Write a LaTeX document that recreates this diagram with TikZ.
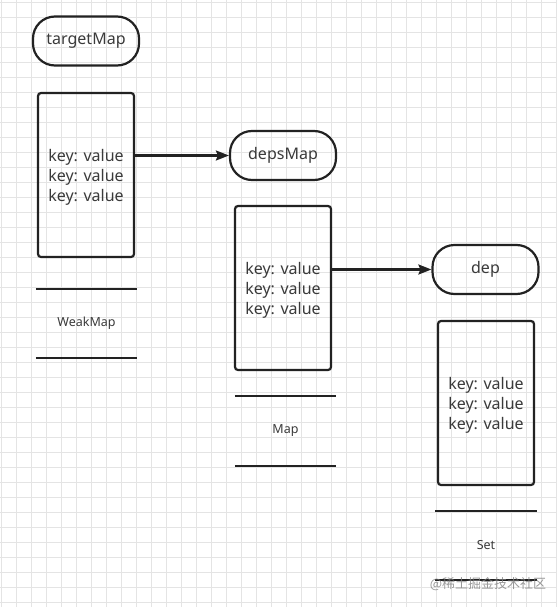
\documentclass[tikz,border=0pt]{standalone}
\usepackage{fontspec}
\setmainfont{Noto Sans}
\newfontfamily\cjk{Noto Sans CJK SC}
\usetikzlibrary{arrows.meta}
\definecolor{ink}{HTML}{222222}
\definecolor{txt}{HTML}{3A3A3A}
\definecolor{gridc}{HTML}{E4E4E4}
\begin{document}
\begin{tikzpicture}[x=1pt,y=-1pt,
  pill/.style={draw=ink,line width=2.2pt,rounded corners=22pt,minimum width=106pt,minimum height=49pt,inner sep=0pt,text=txt,font=\fontsize{16}{20}\selectfont},
  keybox/.style={draw=ink,line width=2.2pt,rounded corners=3pt,minimum width=96pt,minimum height=164pt,inner sep=0pt},
  keytext/.style={align=center,inner sep=0pt,text=txt,font=\fontsize{16}{20}\selectfont},
  tag/.style={minimum width=101pt,minimum height=69pt,inner sep=0pt,text=txt,font=\fontsize{12.5}{15}\selectfont},
  rule/.style={draw=ink,line width=2.2pt},
  link/.style={draw=ink,line width=2.2pt,-{Stealth[length=13pt,width=10pt,inset=2pt]}}]

\useasboundingbox (0,0) rectangle (557,607);
\fill[white] (0,0) rectangle (557,607);

\foreach \x in {1,16,...,556}
{
\draw[gridc,line width=0.9pt] (\x,0)--(\x,607);
}
\foreach \y in {2.7,17.7,...,607}
{
\draw[gridc,line width=0.9pt] (0,\y)--(557,\y);
}

\node[pill] (targetMap) at (86,41) {targetMap};
\node[keybox] (weakBox) at (86,175) {};
\node[keytext] (weakKeys) at (86,177) {key: value\\key: value\\key: value};
\node[tag] (weakTag) at (86.5,323.5) {WeakMap};
\draw[rule] (weakTag.north west)--(weakTag.north east);
\draw[rule] (weakTag.south west)--(weakTag.south east);

\node[pill] (depsMap) at (283,155.5) {depsMap};
\node[keybox] (mapBox) at (283,288) {};
\node[keytext] (mapKeys) at (283,290) {key: value\\key: value\\key: value};
\node[tag] (mapTag) at (285.5,431) {Map};
\draw[rule] (mapTag.north west)--(mapTag.north east);
\draw[rule] (mapTag.south west)--(mapTag.south east);

\node[pill] (dep) at (485.5,269.5) {dep};
\node[keybox] (setBox) at (486,403) {};
\node[keytext] (setKeys) at (486,405) {key: value\\key: value\\key: value};
\node[tag] (setTag) at (486,545.5) {Set};
\draw[rule] (setTag.north west)--(setTag.north east);
\draw[rule] (setTag.south west)--(setTag.south east);

\draw[link] (weakBox.east |- depsMap.west)--(depsMap.west);
\draw[link] (mapBox.east |- dep.west)--(dep.west);

\node[text=gray,opacity=0.8,font=\fontsize{13}{15}\selectfont] (mark) at (488,584) {\cjk @稀土掘金技术社区};

\end{tikzpicture}
\end{document}
